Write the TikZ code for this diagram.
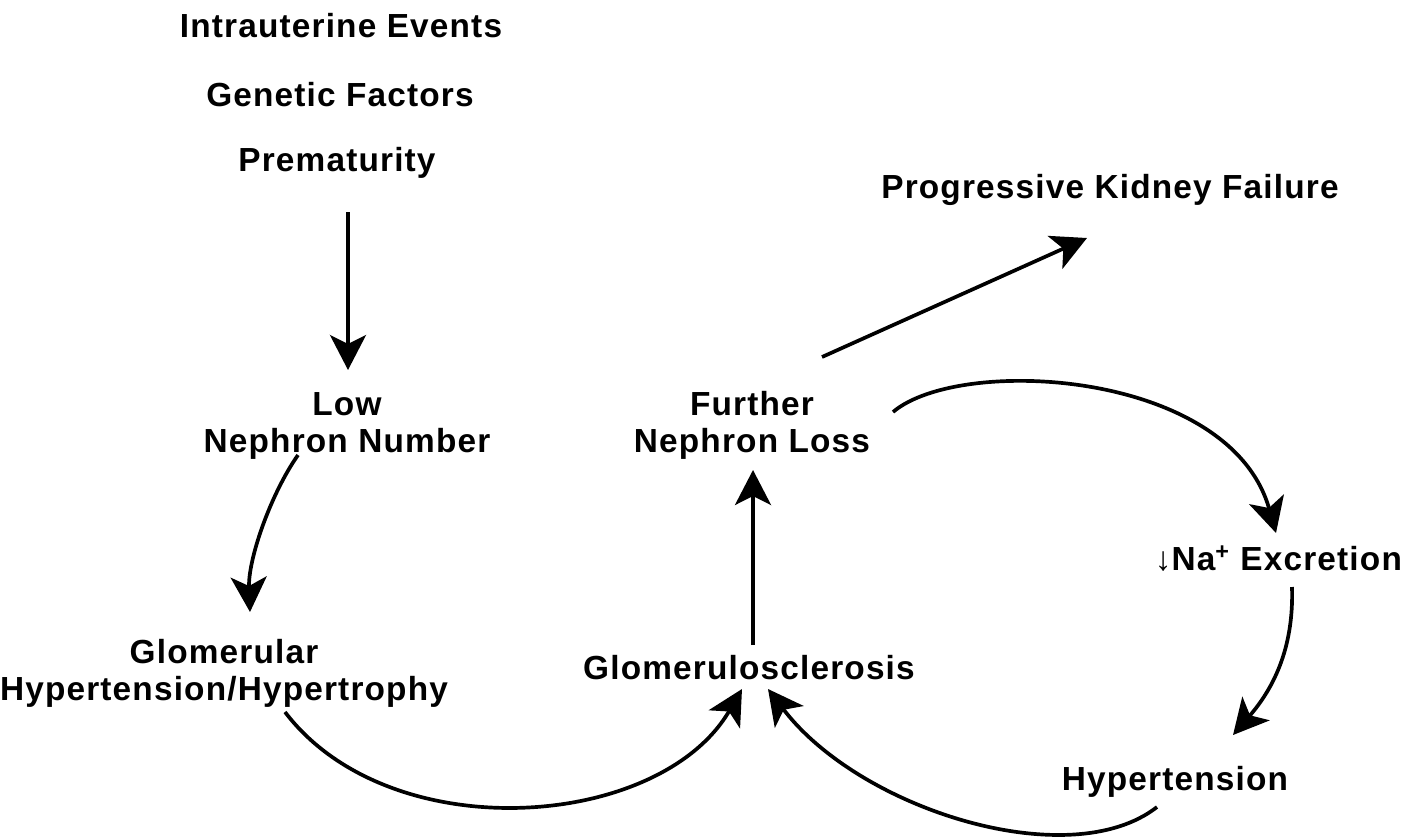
\documentclass[tikz,border=0pt]{standalone}
\usepackage{fontspec}
\setmainfont{Liberation Sans}[LetterSpace=3.5]
\usetikzlibrary{calc,arrows.meta}

\begin{document}
\begin{tikzpicture}[x=0.02cm, y=-0.02cm]
\tikzset{textnode/.style={font=\bfseries\fontsize{19}{21}\selectfont, align=center, inner sep=1pt},
arrowline/.style={line width=2.1pt, -{Stealth[length=0.7cm, width=0.72cm, inset=0.18cm]}}}

\useasboundingbox (0,0) rectangle (1406,839);

\node (intra) [textnode] at (341,26) {Intrauterine Events};
\node (genet) [textnode] at (340,95) {Genetic Factors};
\node (prem) [textnode] at (337,163) {Prematurity};
\node (prog) [textnode] at (1110,190) {Progressive Kidney Failure};
\node (low) [textnode] at (347,426) {Low\\Nephron Number};
\node (further) [textnode] at (752,425) {Further\\Nephron Loss};
\node (glom) [textnode] at (224,673) {Glomerular\\Hypertension/Hypertrophy};
\node (sclero) [textnode] at (749,668) {Glomerulosclerosis};
\node (na) [textnode,anchor=east] at (1404,559) {{\mdseries ↓}Na\textsuperscript{+} Excretion};
\node (hyper) [textnode] at (1175,782) {Hypertension};

%% Edges
\draw [arrowline] ($(prem)+(11,49)$) -- ($(low)+(1,-56)$);
\draw [arrowline] ($(low)+(-49,29)$) .. controls +(-28,40) and +(-2,-52) .. ($(glom)+(26,-61)$);
\draw [arrowline] ($(glom)+(61,39)$) .. controls +(105,138) and +(-82,141) .. ($(sclero)+(-7,21)$);
\draw [arrowline] ($(hyper)+(-18,25)$) .. controls +(-87,68) and +(92,121) .. ($(sclero)+(19,21)$);
\draw [arrowline] ($(sclero)+(4,-23)$) -- ($(further)+(1,45)$);
\draw [arrowline] ($(further)+(70,-68)$) -- ($(prog)+(-23,48)$);
\draw [arrowline] ($(further)+(141,-13)$) .. controls +(67,-57) and +(-46,-163) .. ($(na.east)+(-128,-26)$);
\draw [arrowline] ($(na.east)+(-112,28)$) .. controls +(2,63) and +(39,-45) .. ($(hyper)+(58,-47)$);

\end{tikzpicture}
\end{document}
